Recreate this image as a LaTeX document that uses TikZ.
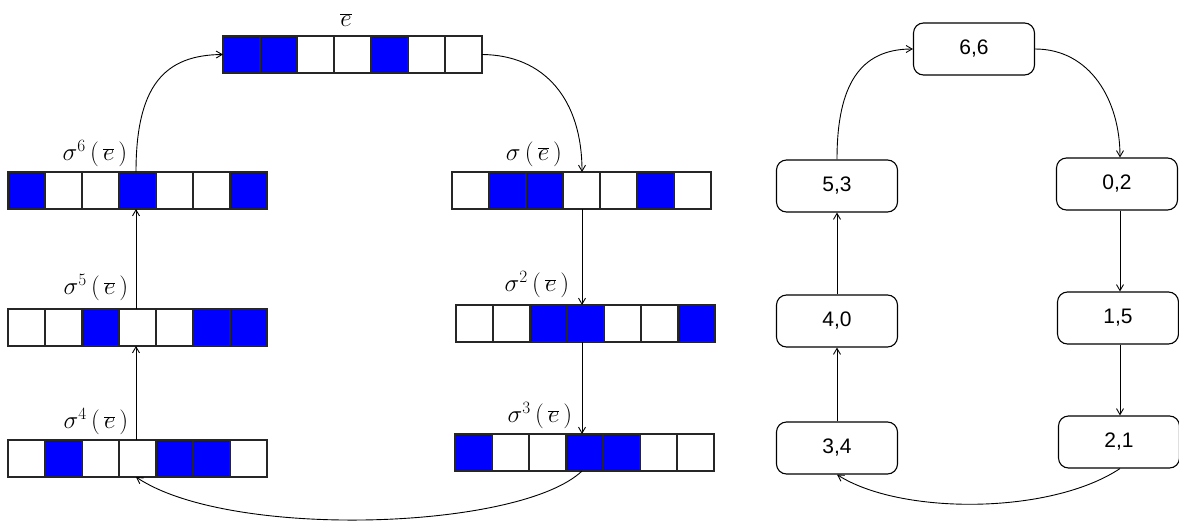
\documentclass[tikz,border=0pt]{standalone}
\usepackage{fontspec}
\newfontfamily\numfont{Liberation Sans}
\usetikzlibrary{arrows.meta}
\definecolor{cellblue}{RGB}{0,0,255}
\newcommand\drawbar[4]{%
  \foreach \v [count=\i from 0] in {#4} {%
    \pgfmathsetmacro\xa{#2+\i*37}%
    \ifnum\v=1 \def\fc{cellblue}\else\def\fc{white}\fi
    \draw[cellline, fill=\fc] (\xa,#3) rectangle ++(37,37);
  }%
  \node[inner sep=0pt, outer sep=0pt, minimum width=259pt, minimum height=37pt, anchor=north west] (#1) at (#2,#3) {};
}
\begin{document}
\begin{tikzpicture}[x=1pt, y=-1pt,
  cellline/.style={line width=1.2pt, draw=black!85},
  arr/.style={line width=0.9pt, -{Straight Barb[length=6pt,width=7pt]}},
  lbl/.style={inner sep=0pt, font=\fontsize{24}{28}\selectfont},
  state/.style={draw, line width=1.1pt, rounded corners=10pt, minimum width=121pt, minimum height=52pt, inner sep=0pt, font=\numfont\fontsize{21}{25}\selectfont}]
\useasboundingbox (0,0) rectangle (1179,525);
% bars
\drawbar{e0}{223}{36}{1,1,0,0,1,0,0}
\drawbar{s6}{8}{172}{1,0,0,1,0,0,1}
\drawbar{s1}{452}{172}{0,1,1,0,0,1,0}
\drawbar{s5}{8}{309}{0,0,1,0,0,1,1}
\drawbar{s2}{456}{305}{0,0,1,1,0,0,1}
\drawbar{s4}{8}{440}{0,1,0,0,1,1,0}
\drawbar{s3}{455}{434}{1,0,0,1,1,0,0}
% labels
\node[lbl] (le0) at (346,20) {$\overline{e}$};
\node[lbl] (ls6) at (95,154) {$\sigma^{6}\,(\,\overline{e}\,)$};
\node[lbl] (ls1) at (534,154) {$\sigma\,(\,\overline{e}\,)$};
\node[lbl] (ls5) at (96,288) {$\sigma^{5}\,(\,\overline{e}\,)$};
\node[lbl] (ls2) at (537,285) {$\sigma^{2}\,(\,\overline{e}\,)$};
\node[lbl] (ls4) at (96,422) {$\sigma^{4}\,(\,\overline{e}\,)$};
\node[lbl] (ls3) at (540,416) {$\sigma^{3}\,(\,\overline{e}\,)$};
% connector anchors on a common vertical line
\coordinate (L) at (136,0);
\coordinate (R) at (582,0);
% left connectors
\draw[arr] (L |- s6.north) .. controls (136,85) and (165,55) .. (e0.west);
\draw[arr] (e0.east) .. controls (545,55) and (582,100) .. (R |- s1.north);
\draw[arr] (R |- s1.south) -- (R |- s2.north);
\draw[arr] (R |- s2.south) -- (R |- s3.north);
\draw[arr] (R |- s3.south) .. controls (520,530) and (230,540) .. (L |- s4.south);
\draw[arr] (L |- s4.north) -- (L |- s5.south);
\draw[arr] (L |- s5.north) -- (L |- s6.south);
% right graph
\node[state] (n66) at (974,49) {6,6};
\node[state] (n53) at (837,186) {5,3};
\node[state] (n02) at (1117,184) {0,2};
\node[state] (n40) at (837,321) {4,0};
\node[state] (n15) at (1118,318) {1,5};
\node[state] (n34) at (837,448) {3,4};
\node[state] (n21) at (1119,442) {2,1};
\coordinate (RR) at (1120,0);
\draw[arr] (n53.north) .. controls (837,85) and (860,49) .. (n66.west);
\draw[arr] (n66.east) .. controls (1090,49) and (1120,100) .. (RR |- n02.north);
\draw[arr] (RR |- n02.south) -- (RR |- n15.north);
\draw[arr] (RR |- n15.south) -- (RR |- n21.north);
\draw[arr] (RR |- n21.south) .. controls (1050,515) and (900,515) .. (n34.south);
\draw[arr] (n34.north) -- (n40.south);
\draw[arr] (n40.north) -- (n53.south);
\end{tikzpicture}
\end{document}
